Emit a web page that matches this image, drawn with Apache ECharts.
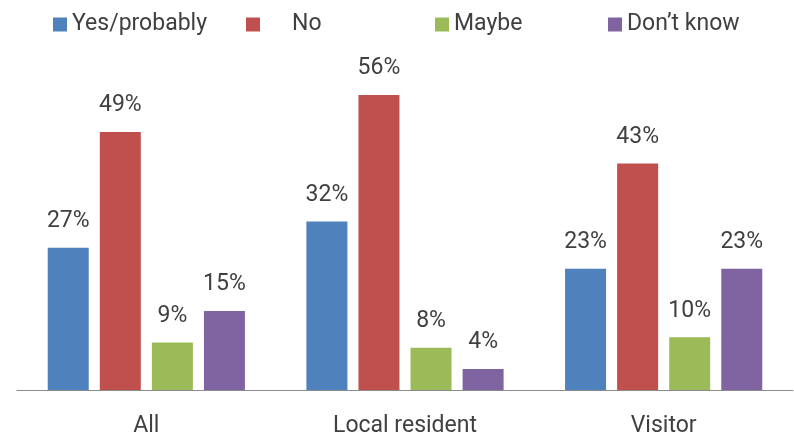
<!DOCTYPE html>
<html>
<head>
<meta charset="utf-8">
<script src="https://cdn.jsdelivr.net/npm/echarts@6/dist/echarts.min.js"></script>
<style>
  html, body { margin: 0; padding: 0; background: #fff; }
  #chart { width: 794px; height: 438px; }
</style>
</head>
<body>
<div id="chart"></div>
<script>
// Survey answers by respondent group (percent)
const categories = ['All', 'Local resident', 'Visitor'];
const seriesNames = ['Yes/probably', 'No', 'Maybe', 'Don\u2019t know'];
const yesProbably = [27, 32, 23];
const no = [49, 56, 43];
const maybe = [9, 8, 10];
const dontKnow = [15, 4, 23];

const colors = ['#4F81BD', '#C0504D', '#9BBB59', '#8064A2'];
const values = [yesProbably, no, maybe, dontKnow];
const fontFamily = 'Roboto, sans-serif';
const textColor = '#404040';

// each legend entry is placed on its own
const legendLefts = [48, 241, 430, 603];

const chart = echarts.init(document.getElementById('chart'));
chart.setOption({
  animation: false,
  color: colors,
  legend: seriesNames.map((name, i) => ({
    data: [name],
    left: legendLefts[i],
    top: 8,
    itemWidth: 14,
    itemHeight: 14,
    icon: 'rect',
    itemGap: 0,
    textStyle: {
      fontFamily: fontFamily,
      fontSize: 23,
      color: textColor,
      padding: i === 1 ? [0, 0, 0, 27] : 0
    }
  })),
  grid: { left: 17, right: 1, top: 74, bottom: 48 },
  xAxis: {
    type: 'category',
    data: categories,
    axisLine: { lineStyle: { color: '#8c8c8c', width: 1 } },
    axisTick: { show: false },
    axisLabel: {
      fontFamily: fontFamily,
      fontSize: 23,
      color: textColor,
      margin: 25
    }
  },
  yAxis: {
    type: 'value',
    min: 0,
    max: 60,
    show: false,
    splitLine: { show: false }
  },
  series: seriesNames.map((name, i) => ({
    name: name,
    type: 'bar',
    data: values[i],
    barWidth: 41,
    barGap: '27%',
    barCategoryGap: '24%',
    itemStyle: { color: colors[i] },
    label: {
      show: true,
      position: 'top',
      distance: 15,
      formatter: '{c}%',
      fontFamily: fontFamily,
      fontSize: 23,
      color: textColor
    }
  }))
});
</script>
</body>
</html>
